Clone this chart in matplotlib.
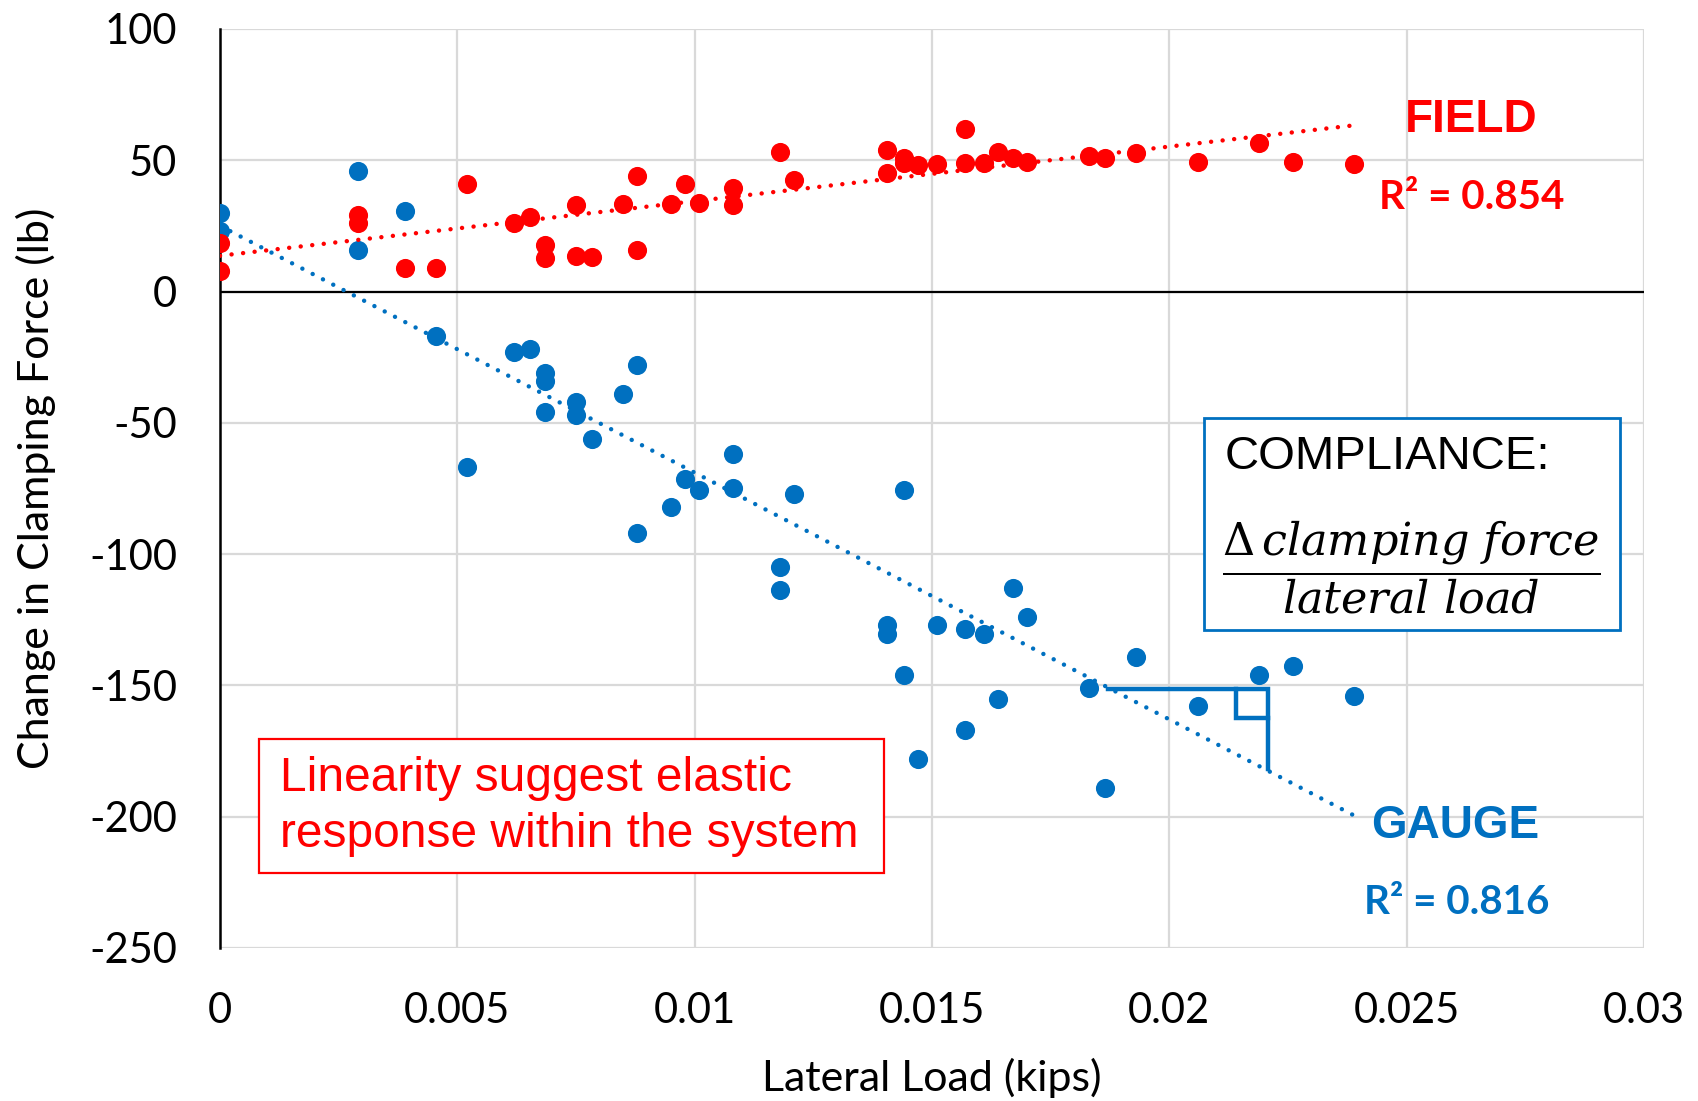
import numpy as np
import matplotlib
matplotlib.use("Agg")
import matplotlib.pyplot as plt

# Lateral load (kips) and change in clamping force (lb)
field_x = [0.0, 0.0, 0.0029, 0.0029, 0.0039, 0.00454, 0.0052, 0.0062, 0.00653, 0.00685,
           0.00685, 0.0075, 0.0075, 0.00783, 0.0085, 0.00879, 0.00879, 0.0095, 0.0098, 0.0101,
           0.0108, 0.0108, 0.0118, 0.0121, 0.01406, 0.01406, 0.0144, 0.0144, 0.0147, 0.0151,
           0.0157, 0.0157, 0.0161, 0.0164, 0.0167, 0.017, 0.0183, 0.01865, 0.0193, 0.0206,
           0.0219, 0.0226, 0.0239]
field_y = [18.6, 7.8, 29, 26, 9, 9, 41, 26, 28.5, 17.8,
           12.8, 33, 13.6, 13.2, 33.4, 44, 16, 33.4, 41, 33.8,
           39.6, 33, 53, 42.5, 54, 45, 51, 49, 48.3, 48.7,
           62, 49, 49, 53, 50.8, 49.5, 51.6, 51, 52.8, 49.5,
           56.6, 49.5, 48.7]

gauge_x = [0.0, 0.0, 0.0029, 0.0029, 0.0039, 0.00454, 0.0052, 0.0062, 0.00653, 0.00685,
           0.00685, 0.00685, 0.0075, 0.0075, 0.00783, 0.0085, 0.00879, 0.00879, 0.0095, 0.0098,
           0.0101, 0.0108, 0.0108, 0.0121, 0.0118, 0.0118, 0.01406, 0.01406, 0.0144, 0.0144,
           0.0147, 0.0151, 0.0157, 0.0157, 0.0161, 0.0164, 0.0167, 0.017, 0.0183, 0.01865,
           0.0193, 0.0206, 0.0219, 0.0226, 0.0239]
gauge_y = [30, 23, 46, 15.7, 30.5, -17, -67, -23, -22, -31,
           -34, -46, -42, -47, -56, -39, -28, -92, -82, -71.5,
           -75.5, -62, -75, -77, -105, -113.5, -127, -130.5, -75.5, -146,
           -178, -127, -128.5, -167, -130.5, -155, -113, -124, -151, -189,
           -139, -158, -146, -142.5, -154]

field_r2 = "0.854"
gauge_r2 = "0.816"

x_ticks = [0, 0.005, 0.01, 0.015, 0.02, 0.025, 0.03]
x_tick_labels = ["0", "0.005", "0.01", "0.015", "0.02", "0.025", "0.03"]
y_ticks = [-250, -200, -150, -100, -50, 0, 50, 100]

RED = "#FF0000"
BLUE = "#0070C0"

plt.rcParams["font.family"] = ["Lato", "DejaVu Sans"]
plt.rcParams["mathtext.fontset"] = "dejavuserif"
plt.rcParams["axes.unicode_minus"] = False

fig = plt.figure(figsize=(16.99, 11.01), dpi=100)
ax = fig.add_axes([0.1295, 0.139, 0.8381, 0.8347])

ax.set_xlim(0, 0.03)
ax.set_ylim(-250, 100)
ax.set_xticks(x_ticks)
ax.set_xticklabels(x_tick_labels)
ax.set_yticks(y_ticks)
ax.tick_params(length=0, labelsize=30)
ax.tick_params(axis="x", pad=32)
ax.tick_params(axis="y", pad=31)
ax.grid(True, color="#D9D9D9", linewidth=1.6)
ax.set_axisbelow(True)
for side in ("top", "right", "bottom"):
    ax.spines[side].set_visible(False)
ax.spines["left"].set_color("black")
ax.spines["left"].set_linewidth(1.8)
ax.spines["left"].set_zorder(1)
ax.axhline(0, color="black", linewidth=1.6, zorder=1)

ax.set_xlabel("Lateral Load (kips)", fontsize=31, labelpad=20)
ax.set_ylabel("Change in Clamping Force (lb)", fontsize=31, labelpad=24)

# Measured points
ax.scatter(gauge_x, gauge_y, s=190, color=BLUE, linewidths=0, zorder=3)
ax.scatter(field_x, field_y, s=190, color=RED, linewidths=0, zorder=3)

# Linear trend lines (least squares)
for xs, ys, col in ((field_x, field_y, RED), (gauge_x, gauge_y, BLUE)):
    k, b = np.polyfit(xs, ys, 1)
    xx = np.array([0.0, max(xs)])
    ax.plot(xx, k * xx + b, color=col, linewidth=3.2, linestyle=(0, (0.01, 2.6)),
            dash_capstyle="round", zorder=4)

# Series labels
ax.text(0.02635, 65.2, "FIELD", color=RED, fontsize=33, fontweight="bold",
        family=["Liberation Sans"], ha="center", va="center")
ax.text(0.02637, 35.9, "R² = " + field_r2, color=RED, fontsize=29, fontweight="bold",
        ha="center", va="center")
ax.text(0.02603, -203.5, "GAUGE", color=BLUE, fontsize=33, fontweight="bold",
        family=["Liberation Sans"], ha="center", va="center")
ax.text(0.02605, -232.5, "R² = " + gauge_r2, color=BLUE, fontsize=29, fontweight="bold",
        ha="center", va="center")

# Slope bracket on the gauge trend
ax.plot([0.0187, 0.02208, 0.02208], [-151.5, -151.5, -182], color=BLUE, linewidth=3.2,
        solid_joinstyle="miter", zorder=5)
ax.plot([0.0214, 0.0214, 0.02208], [-151.5, -162.3, -162.3], color=BLUE, linewidth=3.2,
        solid_joinstyle="miter", zorder=5)

# Compliance box
ax.add_patch(plt.Rectangle((0.691, 0.3455), 0.292, 0.2315, transform=ax.transAxes,
                           fill=True, facecolor="white", edgecolor=BLUE, linewidth=2, zorder=6))
ax.text(0.7055, 0.534, "COMPLIANCE:", transform=ax.transAxes, fontsize=34,
        family=["Liberation Sans"], ha="left", va="center", zorder=7)
ax.text(0.837, 0.414, r"$\dfrac{\Delta\,clamping\ force}{lateral\ load}$", transform=ax.transAxes,
        fontsize=32, ha="center", va="center", zorder=7)

# Note box
ax.add_patch(plt.Rectangle((0.0274, 0.0814), 0.4391, 0.1462, transform=ax.transAxes,
                           fill=True, facecolor="white", edgecolor=RED, linewidth=1.6, zorder=6))
ax.text(0.0419, 0.1535, "Linearity suggest elastic\nresponse within the system",
        transform=ax.transAxes, fontsize=34.5, color=RED, family=["Liberation Sans"],
        ha="left", va="center", linespacing=1.32, zorder=7)

fig.savefig("out.png", dpi=100)
